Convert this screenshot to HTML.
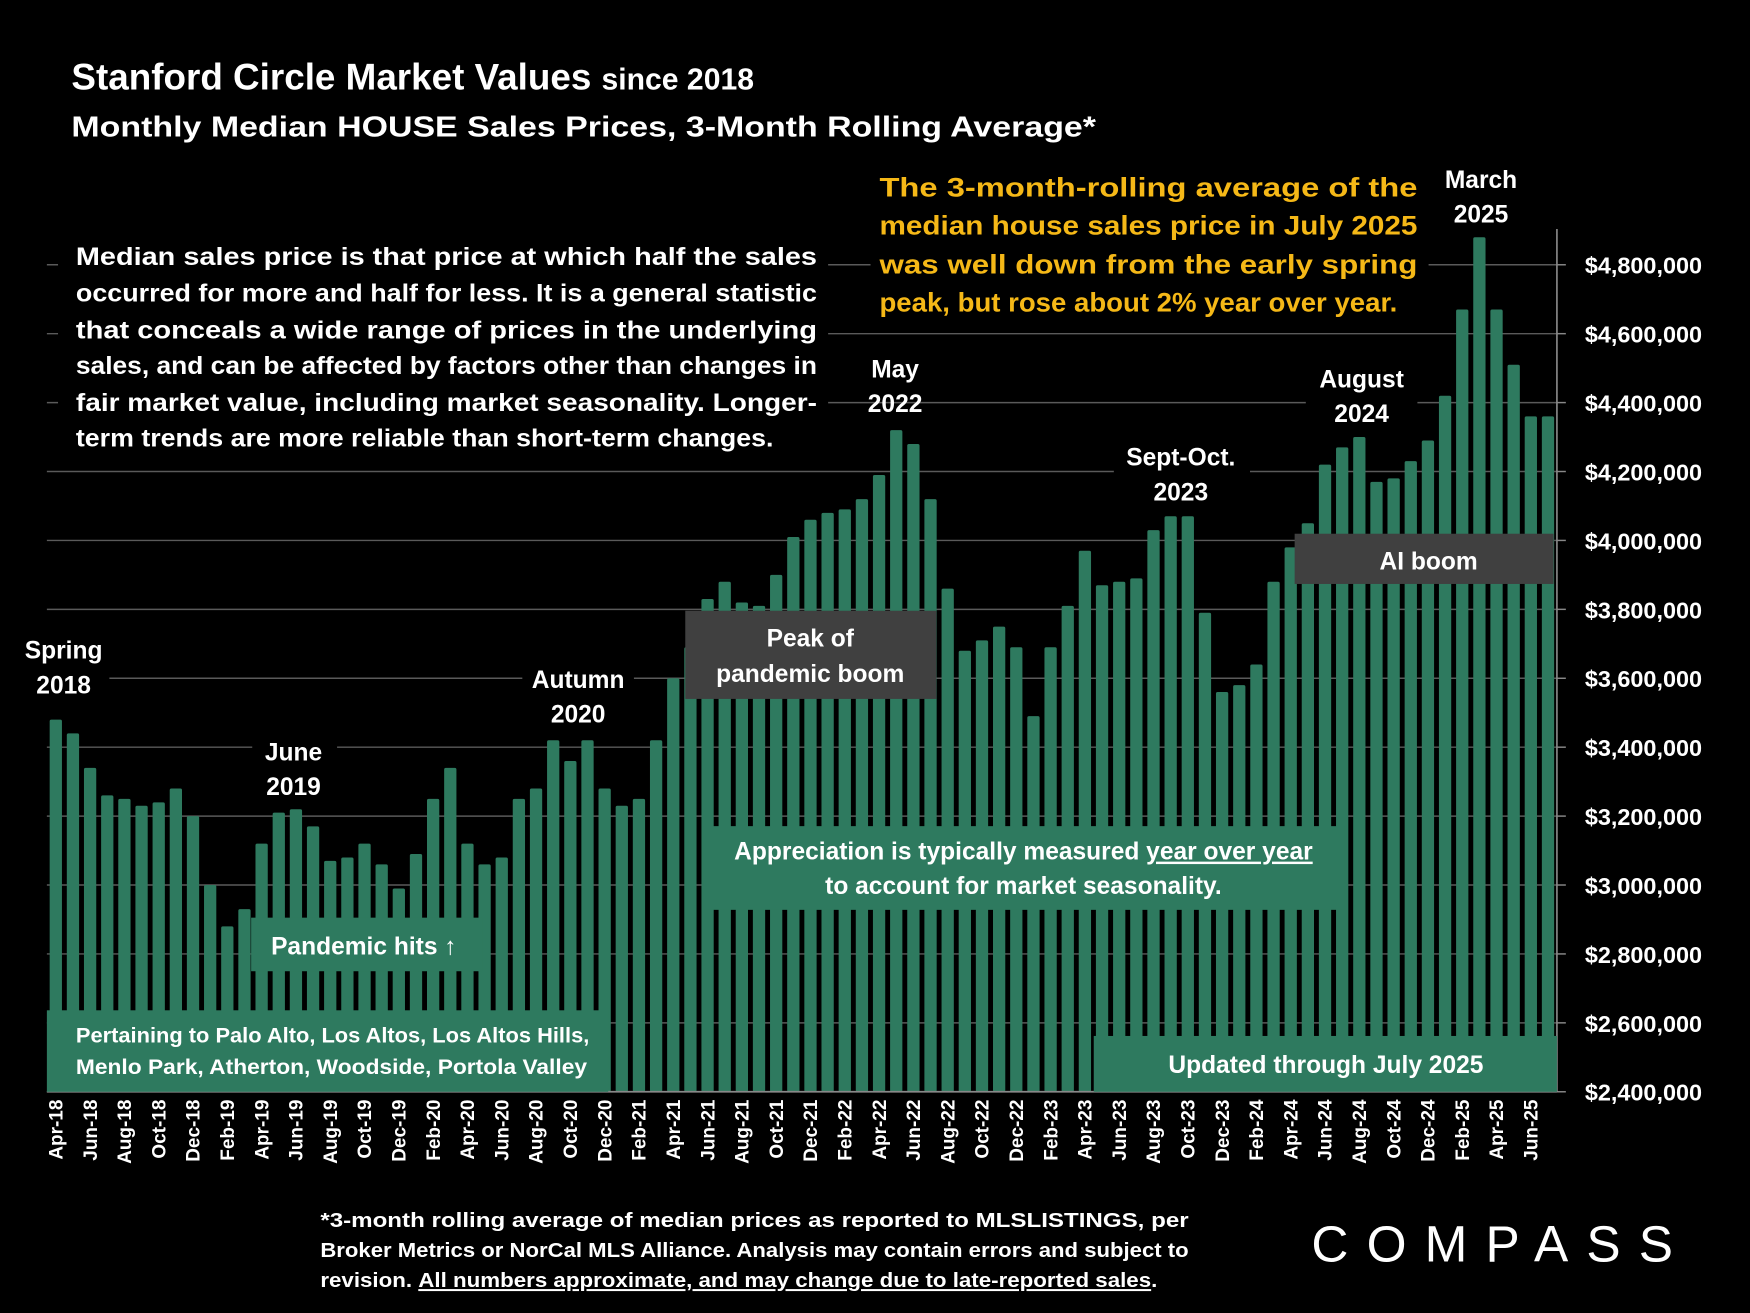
<!DOCTYPE html>
<html><head><meta charset="utf-8"><style>
html,body{margin:0;padding:0;background:#000;}
svg{display:block;}
text{font-family:"Liberation Sans",sans-serif;font-weight:bold;fill:#fff;}
</style></head><body>
<svg id="chart" width="1750" height="1313" viewBox="0 0 1568 1176" xmlns="http://www.w3.org/2000/svg">
<rect width="1568" height="1176" fill="#000"/>
<g id="grid"></g>
<g id="bars"></g>
<g id="xlabels"></g>
<g id="yaxis"></g>

<text x="64" y="80" font-size="33">Stanford Circle Market Values <tspan font-size="27">since 2018</tspan></text>
<text x="64" y="122" font-size="26" textLength="918" lengthAdjust="spacingAndGlyphs">Monthly Median HOUSE Sales Prices, 3-Month Rolling Average*</text>

<rect x="52" y="208" width="690" height="200" fill="#000"/>
<g font-size="22">
<text x="68" y="237" textLength="664" lengthAdjust="spacingAndGlyphs">Median sales price is that price at which half the sales</text>
<text x="68" y="270" textLength="664" lengthAdjust="spacingAndGlyphs">occurred for more and half for less. It is a general statistic</text>
<text x="68" y="303" textLength="664" lengthAdjust="spacingAndGlyphs">that conceals a wide range of prices in the underlying</text>
<text x="68" y="335" textLength="664" lengthAdjust="spacingAndGlyphs">sales, and can be affected by factors other than changes in</text>
<text x="68" y="368" textLength="664" lengthAdjust="spacingAndGlyphs">fair market value, including market seasonality. Longer-</text>
<text x="68" y="400" textLength="625" lengthAdjust="spacingAndGlyphs">term trends are more reliable than short-term changes.</text>
</g>

<rect x="780" y="148" width="500" height="145" fill="#000"/>
<g font-size="24">
<text x="788" y="176" textLength="482" lengthAdjust="spacingAndGlyphs" style="fill:#f5b817">The 3-month-rolling average of the</text>
<text x="788" y="210" textLength="482" lengthAdjust="spacingAndGlyphs" style="fill:#f5b817">median house sales price in July 2025</text>
<text x="788" y="245" textLength="482" lengthAdjust="spacingAndGlyphs" style="fill:#f5b817">was well down from the early spring</text>
<text x="788" y="279" textLength="464" lengthAdjust="spacingAndGlyphs" style="fill:#f5b817">peak, but rose about 2% year over year.</text>
</g>

<g font-size="22" text-anchor="middle">
<rect x="16" y="565" width="82" height="68" fill="#000"/><text x="57" y="590">Spring</text><text x="57" y="621">2018</text>
<rect x="226" y="657" width="76" height="66" fill="#000"/><text x="263" y="681">June</text><text x="263" y="712">2019</text>
<rect x="468" y="592" width="100" height="64" fill="#000"/><text x="518" y="616">Autumn</text><text x="518" y="647">2020</text>
<text x="802" y="338">May</text><text x="802" y="369">2022</text>
<rect x="998" y="394" width="122" height="64" fill="#000"/><text x="1058" y="417">Sept-Oct.</text><text x="1058" y="448">2023</text>
<rect x="1170" y="323" width="100" height="62" fill="#000"/><text x="1220" y="347">August</text><text x="1220" y="378">2024</text>
<text x="1327" y="168">March</text><text x="1327" y="199">2025</text>
</g>

<rect x="614" y="547" width="225" height="79" fill="#404040"/>
<text x="726" y="579" font-size="22" text-anchor="middle">Peak of</text>
<text x="726" y="611" font-size="22" text-anchor="middle">pandemic boom</text>

<rect x="1160" y="478" width="232" height="45" fill="#404040"/>
<text x="1280" y="510" font-size="22" text-anchor="middle">AI boom</text>

<rect x="630" y="740" width="575" height="75" fill="#2e7a5f"/>
<text x="917" y="770" font-size="22" text-anchor="middle">Appreciation is typically measured <tspan text-decoration="underline">year over year</tspan></text>
<text x="917" y="801" font-size="22" text-anchor="middle">to account for market seasonality.</text>

<rect x="225" y="822" width="207" height="48" fill="#2e7a5f"/>
<text x="326" y="855" font-size="22" text-anchor="middle">Pandemic hits ↑</text>

<rect x="42" y="905" width="503" height="73" fill="#2e7a5f"/>
<text x="68" y="934" font-size="19" textLength="460" lengthAdjust="spacingAndGlyphs">Pertaining to Palo Alto, Los Altos, Los Altos Hills,</text>
<text x="68" y="962" font-size="19" textLength="458" lengthAdjust="spacingAndGlyphs">Menlo Park, Atherton, Woodside, Portola Valley</text>

<rect x="980" y="928" width="415" height="50" fill="#2e7a5f"/>
<text x="1188" y="961" font-size="22" text-anchor="middle">Updated through July 2025</text>

<g font-size="18">
<text x="287" y="1099" textLength="778" lengthAdjust="spacingAndGlyphs">*3-month rolling average of median prices as reported to MLSLISTINGS, per</text>
<text x="287" y="1126" textLength="778" lengthAdjust="spacingAndGlyphs">Broker Metrics or NorCal MLS Alliance. Analysis may contain errors and subject to</text>
<text x="287" y="1153" textLength="750" lengthAdjust="spacingAndGlyphs">revision. <tspan text-decoration="underline">All numbers approximate, and may change due to late-reported sales</tspan>.</text>
</g>
<text x="1340" y="1130" font-size="46" text-anchor="middle" style="font-weight:normal" letter-spacing="6" textLength="330">COMPASS</text>

<script>
const months = ["Apr-18","May-18","Jun-18","Jul-18","Aug-18","Sep-18","Oct-18","Nov-18","Dec-18","Jan-19","Feb-19","Mar-19","Apr-19","May-19","Jun-19","Jul-19","Aug-19","Sep-19","Oct-19","Nov-19","Dec-19","Jan-20","Feb-20","Mar-20","Apr-20","May-20","Jun-20","Jul-20","Aug-20","Sep-20","Oct-20","Nov-20","Dec-20","Jan-21","Feb-21","Mar-21","Apr-21","May-21","Jun-21","Jul-21","Aug-21","Sep-21","Oct-21","Nov-21","Dec-21","Jan-22","Feb-22","Mar-22","Apr-22","May-22","Jun-22","Jul-22","Aug-22","Sep-22","Oct-22","Nov-22","Dec-22","Jan-23","Feb-23","Mar-23","Apr-23","May-23","Jun-23","Jul-23","Aug-23","Sep-23","Oct-23","Nov-23","Dec-23","Jan-24","Feb-24","Mar-24","Apr-24","May-24","Jun-24","Jul-24","Aug-24","Sep-24","Oct-24","Nov-24","Dec-24","Jan-25","Feb-25","Mar-25","Apr-25","May-25","Jun-25","Jul-25"];
const prices = [3480000,3440000,3340000,3260000,3250000,3230000,3240000,3280000,3200000,3000000,2880000,2930000,3120000,3210000,3220000,3170000,3070000,3080000,3120000,3060000,2990000,3090000,3250000,3340000,3120000,3060000,3080000,3250000,3280000,3420000,3360000,3420000,3280000,3230000,3250000,3420000,3600000,3690000,3830000,3880000,3820000,3810000,3900000,4010000,4060000,4080000,4090000,4120000,4190000,4320000,4280000,4120000,3860000,3680000,3710000,3750000,3690000,3490000,3690000,3810000,3970000,3870000,3880000,3890000,4030000,4070000,4070000,3790000,3560000,3580000,3640000,3880000,3980000,4050000,4220000,4270000,4300000,4170000,4180000,4230000,4290000,4420000,4670000,4880000,4670000,4510000,4360000,4360000];
const yTicks = [2400000,2600000,2800000,3000000,3200000,3400000,3600000,3800000,4000000,4200000,4400000,4600000,4800000];
const yTickLabels = ["$2,400,000","$2,600,000","$2,800,000","$3,000,000","$3,200,000","$3,400,000","$3,600,000","$3,800,000","$4,000,000","$4,200,000","$4,400,000","$4,600,000","$4,800,000"];

const NS="http://www.w3.org/2000/svg";
const y0=978, y1=237, vMin=2400000, vMax=4800000;
const yScale = v => y0 - (v - vMin)/(vMax - vMin)*(y0 - y1);
const xStep = (1387-50)/(months.length-1);
const xScale = i => 50 + i*xStep;
function mk(tag, attrs, parent){const e=document.createElementNS(NS,tag);for(const k in attrs)e.setAttribute(k,attrs[k]);parent.appendChild(e);return e;}

const grid=document.getElementById('grid'), yaxis=document.getElementById('yaxis');
yTicks.forEach((t,i)=>{
  const y=yScale(t);
  const gl=mk('line',{x1:42,x2:1395,y1:y,y2:y,stroke:'#5a5a5a','stroke-width':1.3},grid);
  
  
  const tk=mk('line',{x1:1395,x2:1403,y1:y,y2:y,stroke:'#888','stroke-width':1.3},yaxis);
  
  
  const tl=mk('text',{x:1420,y:y+8,'font-size':21},yaxis);
  tl.textContent=yTickLabels[i];
  
  
});
const ax=mk('line',{x1:1395,x2:1395,y1:205,y2:978,stroke:'#888','stroke-width':1.5},yaxis);



const bars=document.getElementById('bars'), xl=document.getElementById('xlabels');
prices.forEach((v,i)=>{
  const x=xScale(i), y=yScale(v);
  const b=mk('rect',{x:x-5.5,y:y,width:11,height:y0-y,fill:'#2e7a5f',rx:1.5},bars);
  
  
  if(i%2===0){
    const t=mk('text',{x:0,y:0,'font-size':17,'text-anchor':'end',transform:`translate(${x+6},985) rotate(-90)`},xl);
    t.textContent=months[i];
    
    
  }
});
const bl=mk('line',{x1:42,x2:1395,y1:978,y2:978,stroke:'#888','stroke-width':1.5},xl);


</script>
</svg>
</body></html>
